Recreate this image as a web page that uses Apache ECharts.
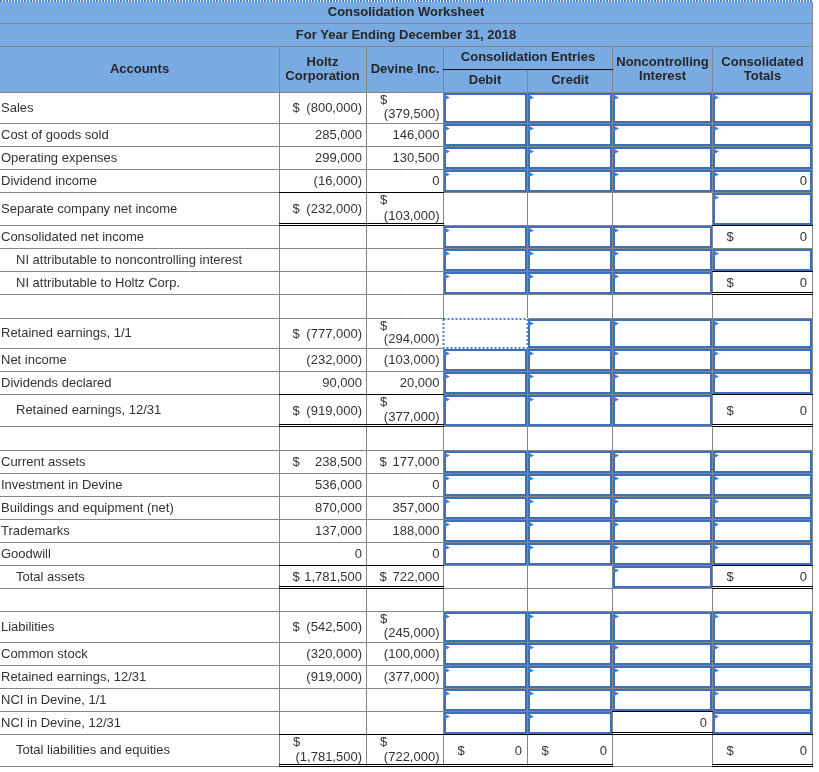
<!DOCTYPE html>
<html><head><meta charset="utf-8">
<script src="https://cdn.jsdelivr.net/npm/echarts@6/dist/echarts.min.js"></script>
<style>html,body{margin:0;padding:0;background:#fff}#c{width:819px;height:772px}</style>
</head><body><div id="c"></div>
<script>
// ---------------- DATA ----------------
const titleLines = ['Consolidation Worksheet', 'For Year Ending December 31, 2018'];
const accounts = ['Sales','Cost of goods sold','Operating expenses','Dividend income','Separate company net income',
  'Consolidated net income','NI attributable to noncontrolling interest','NI attributable to Holtz Corp.','',
  'Retained earnings, 1/1','Net income','Dividends declared','Retained earnings, 12/31','',
  'Current assets','Investment in Devine','Buildings and equipment (net)','Trademarks','Goodwill','Total assets','',
  'Liabilities','Common stock','Retained earnings, 12/31','NCI in Devine, 1/1','NCI in Devine, 12/31','Total liabilities and equities'];
const holtz  = [-800000,285000,299000,-16000,-232000,null,null,null,null,-777000,-232000,90000,-919000,null,
  238500,536000,870000,137000,0,1781500,null,-542500,-320000,-919000,null,null,-1781500];
const devine = [-379500,146000,130500,0,-103000,null,null,null,null,-294000,-103000,20000,-377000,null,
  177000,0,357000,188000,0,722000,null,-245000,-100000,-377000,null,null,-722000];
const debit  = [null,null,null,null,null,null,null,null,null,null,null,null,null,null,null,null,null,null,null,null,null,null,null,null,null,null,0];
const credit = [null,null,null,null,null,null,null,null,null,null,null,null,null,null,null,null,null,null,null,null,null,null,null,null,null,null,0];
const nci    = [null,null,null,null,null,null,null,null,null,null,null,null,null,null,null,null,null,null,null,null,null,null,null,null,null,0,null];
const totals = [null,null,null,0,null,0,null,0,null,null,null,null,0,null,null,null,null,null,null,0,null,null,null,null,null,null,0];
const dollarRows = [0,4,9,12,14,19,21,26];          // rows whose company amounts carry "$"
const resultDollar = ['0000','0000','0000','0000','0000','0001','0000','0001','0000','0000','0000','0000','0001','0000',
  '0000','0000','0000','0000','0000','0001','0000','0000','0000','0000','0000','0000','1101'];

// ---------------- LAYOUT / STYLE ----------------
const indentRows = [6,7,12,19,26];
const colEdges = [0,279,366,443,527,612,712,812];
const bodyTop = 92;
const rowHeights = [31,23,23,23,33,23,23,23,24,30,23,23,32,24,23,23,23,23,23,23,23,31,23,23,23,23,32];
const inputMask = ['IIII','IIII','IIII','IIII','---I','III-','IIII','III-','----','FIII','IIII','IIII','III-','----',
  'IIII','IIII','IIII','IIII','IIII','--I-','----','IIII','IIII','IIII','IIII','II-I','----'];
const hdRule = [0,0,0,1,2,0,0,0,0,0,0,1,2,0,0,0,0,0,1,2,0,0,0,0,0,1,2];
const resTop = ['0000','0000','0000','0000','0000','0001','0000','0001','0000','0000','0000','0000','0001','0000',
  '0000','0000','0000','0000','0000','0001','0000','0000','0000','0000','0000','0010','1101'];
const resBottom = ['0000','0000','0000','0000','0000','0000','0000','0002','0000','0000','0000','0000','0002','0000',
  '0000','0000','0000','0000','0000','0002','0000','0000','0000','0000','0000','0020','2202'];

const FAMILY = '"Liberation Sans", Arial, Helvetica, sans-serif';
const TXT = '#333333', HTXT = '#262626', GRAY = '#858585', BLUE = '#3d70b8', TRI = '#3f7ecf', HEAD = '#79abe2';

const rowTops = []; { let a = bodyTop; rowHeights.forEach(h => { rowTops.push(a); a += h; }); }
const mctx = document.createElement('canvas').getContext('2d');
mctx.font = '13px ' + FAMILY;
const tw = s => mctx.measureText(s).width;
const fmt = v => { const s = Math.abs(v).toLocaleString('en-US'); return v < 0 ? '(' + s + ')' : s; };

function hl(api, x1, x2, y, color, w, dash) {
  const p1 = api.coord([x1, y]), p2 = api.coord([x2, y]);
  return {type:'line', shape:{x1:p1[0], y1:p1[1], x2:p2[0], y2:p2[1]}, style:{stroke:color, lineWidth:w||1, lineDash:dash||null}};
}
function vl(api, x, y1, y2, color, w) {
  const p1 = api.coord([x, y1]), p2 = api.coord([x, y2]);
  return {type:'line', shape:{x1:p1[0], y1:p1[1], x2:p2[0], y2:p2[1]}, style:{stroke:color, lineWidth:w||1}};
}
function tx(api, x, y, s, align, bold, color) {
  const p = api.coord([x, y]);
  return {type:'text', x:p[0], y:p[1], style:{text:s, fill:color||TXT, fontSize:13, fontFamily:FAMILY,
    fontWeight:bold?'bold':'normal', align:align||'left', verticalAlign:'middle'}};
}

function drawValue(api, ch, L, R, T, B, v, dollar, pad) {
  if (v === null || v === undefined) return;
  const s = fmt(v), cy = (T + B) / 2 + 1;
  if (!dollar) { ch.push(tx(api, R - pad, cy, s, 'right')); return; }
  if (L + 13 + tw('$') + 3 > R - pad - tw(s)) {
    ch.push(tx(api, L + 14, T + 8.5, '$', 'left'));
    ch.push(tx(api, R - pad, B - 8.5, s, 'right'));
  } else {
    ch.push(tx(api, L + 13.5, cy, '$', 'left'));
    ch.push(tx(api, R - pad, cy, s, 'right'));
  }
}

function renderHeader(params, api) {
  const ch = [];
  const p0 = api.coord([0, 0]), p1 = api.coord([813, 92]);
  ch.push({type:'rect', shape:{x:p0[0], y:p0[1], width:p1[0]-p0[0], height:p1[1]-p0[1]}, style:{fill:HEAD}});
  ch.push(hl(api, 0, 813, 1, '#ffffff', 2));
  ch.push(hl(api, 0, 813, 1, '#4b86d4', 2, [2, 1]));
  [23, 46, 92].forEach(y => ch.push(hl(api, 0, 813, y + 0.5, GRAY, 1)));
  [279, 366, 443, 612, 712].forEach(x => ch.push(vl(api, x + 0.5, 46, 92, GRAY, 1)));
  ch.push(vl(api, 812.5, 2, 92, GRAY, 1));
  ch.push(vl(api, 527.5, 69, 92, GRAY, 1));
  ch.push(hl(api, 443, 613, 69.5, '#111111', 1));
  ch.push(tx(api, 406, 12.5, titleLines[0], 'center', true, HTXT));
  ch.push(tx(api, 406, 35, titleLines[1], 'center', true, HTXT));
  ch.push(tx(api, 139.5, 69.5, 'Accounts', 'center', true, HTXT));
  ch.push(tx(api, 322.5, 62, 'Holtz', 'center', true, HTXT));
  ch.push(tx(api, 322.5, 76.5, 'Corporation', 'center', true, HTXT));
  ch.push(tx(api, 405, 69.5, 'Devine Inc.', 'center', true, HTXT));
  ch.push(tx(api, 528, 57.5, 'Consolidation Entries', 'center', true, HTXT));
  ch.push(tx(api, 485, 80.5, 'Debit', 'center', true, HTXT));
  ch.push(tx(api, 570, 80.5, 'Credit', 'center', true, HTXT));
  ch.push(tx(api, 662.5, 62, 'Noncontrolling', 'center', true, HTXT));
  ch.push(tx(api, 662.5, 76.5, 'Interest', 'center', true, HTXT));
  ch.push(tx(api, 762.5, 62, 'Consolidated', 'center', true, HTXT));
  ch.push(tx(api, 762.5, 76.5, 'Totals', 'center', true, HTXT));
  return {type:'group', children:ch};
}

function renderGrid(params, api) {
  const i = api.value(0), T = rowTops[i], B = T + rowHeights[i];
  const ch = [hl(api, 0, 813, B + 0.5, GRAY, 1)];
  colEdges.slice(1).forEach(x => ch.push(vl(api, x + 0.5, T, B + 1, GRAY, 1)));
  return {type:'group', children:ch};
}

const resultCols = [debit, credit, nci, totals];
function renderCells(params, api) {
  const i = api.value(0), T = rowTops[i], B = T + rowHeights[i];
  const ch = [];
  if (accounts[i]) ch.push(tx(api, indentRows.includes(i) ? 16 : 1, (T + B) / 2 + 0.5, accounts[i], 'left'));
  const hasDollar = dollarRows.includes(i);
  drawValue(api, ch, colEdges[1], colEdges[2], T, B, holtz[i], hasDollar, 4);
  drawValue(api, ch, colEdges[2], colEdges[3], T, B, devine[i], hasDollar, 3.5);
  if (hdRule[i] >= 1) ch.push(hl(api, colEdges[1], colEdges[3] + 1, B + 0.5, '#000', 1));
  if (hdRule[i] === 2) ch.push(hl(api, colEdges[1], colEdges[3] + 1, B - 1.5, '#000', 1));
  for (let k = 0; k < 4; k++) {
    const L = colEdges[3 + k], R = colEdges[4 + k];
    const m = inputMask[i][k];
    if (m === 'I' || m === 'F') {
      const a = api.coord([L + 2, T + 2]), b = api.coord([R - 1, B - 1]);
      if (m === 'I') {
        ch.push({type:'rect', shape:{x:a[0], y:a[1], width:b[0]-a[0], height:b[1]-a[1]}, style:{fill:null, stroke:BLUE, lineWidth:2}});
        const t1 = api.coord([L + 1, T + 2.5]), t2 = api.coord([L + 7, T + 5.5]), t3 = api.coord([L + 1, T + 8.5]);
        ch.push({type:'polygon', shape:{points:[t1, t2, t3]}, style:{fill:TRI}});
      } else {
        const c = api.coord([L + 0.5, T + 1]), d = api.coord([R + 0.5, B]);
        ch.push({type:'rect', shape:{x:c[0], y:c[1], width:d[0]-c[0], height:d[1]-c[1]}, style:{fill:null, stroke:'#fff', lineWidth:2}});
        ch.push({type:'rect', shape:{x:c[0], y:c[1], width:d[0]-c[0], height:d[1]-c[1]}, style:{fill:null, stroke:'#4a7fcc', lineWidth:2, lineDash:[2, 2]}});
      }
    }
    const v = resultCols[k][i];
    if (v !== null && v !== undefined) {
      const cy = (T + B) / 2 + 1;
      if (resultDollar[i][k] === '1') ch.push(tx(api, L + 14.5, cy, '$', 'left'));
      ch.push(tx(api, R - 5, cy, fmt(v), 'right'));
    }
    const tr = resTop[i][k], br = resBottom[i][k];
    if (tr === '1') ch.push(hl(api, L, R + 1, T + 0.5, '#000', 1));
    if (br === '1' || br === '2') ch.push(hl(api, L, R + 1, B + 0.5, '#000', 1));
    if (br === '2') ch.push(hl(api, L, R + 1, B - 1.5, '#000', 1));
  }
  return {type:'group', children:ch};
}

const chart = echarts.init(document.getElementById('c'), null, {renderer:'canvas'});
const rowData = accounts.map((a, i) => [i]);
chart.setOption({
  animation: false,
  grid: {left:0, right:0, top:0, bottom:0},
  xAxis: {type:'value', min:0, max:819, show:false},
  yAxis: {type:'value', min:0, max:772, inverse:true, show:false},
  series: [
    {type:'custom', name:'header', z:1, data:[[0]], renderItem:renderHeader, silent:true},
    {type:'custom', name:'grid', z:2, data:rowData, renderItem:renderGrid, silent:true},
    {type:'custom', name:'cells', z:3, data:rowData, renderItem:renderCells, silent:true}
  ]
});
</script></body></html>
